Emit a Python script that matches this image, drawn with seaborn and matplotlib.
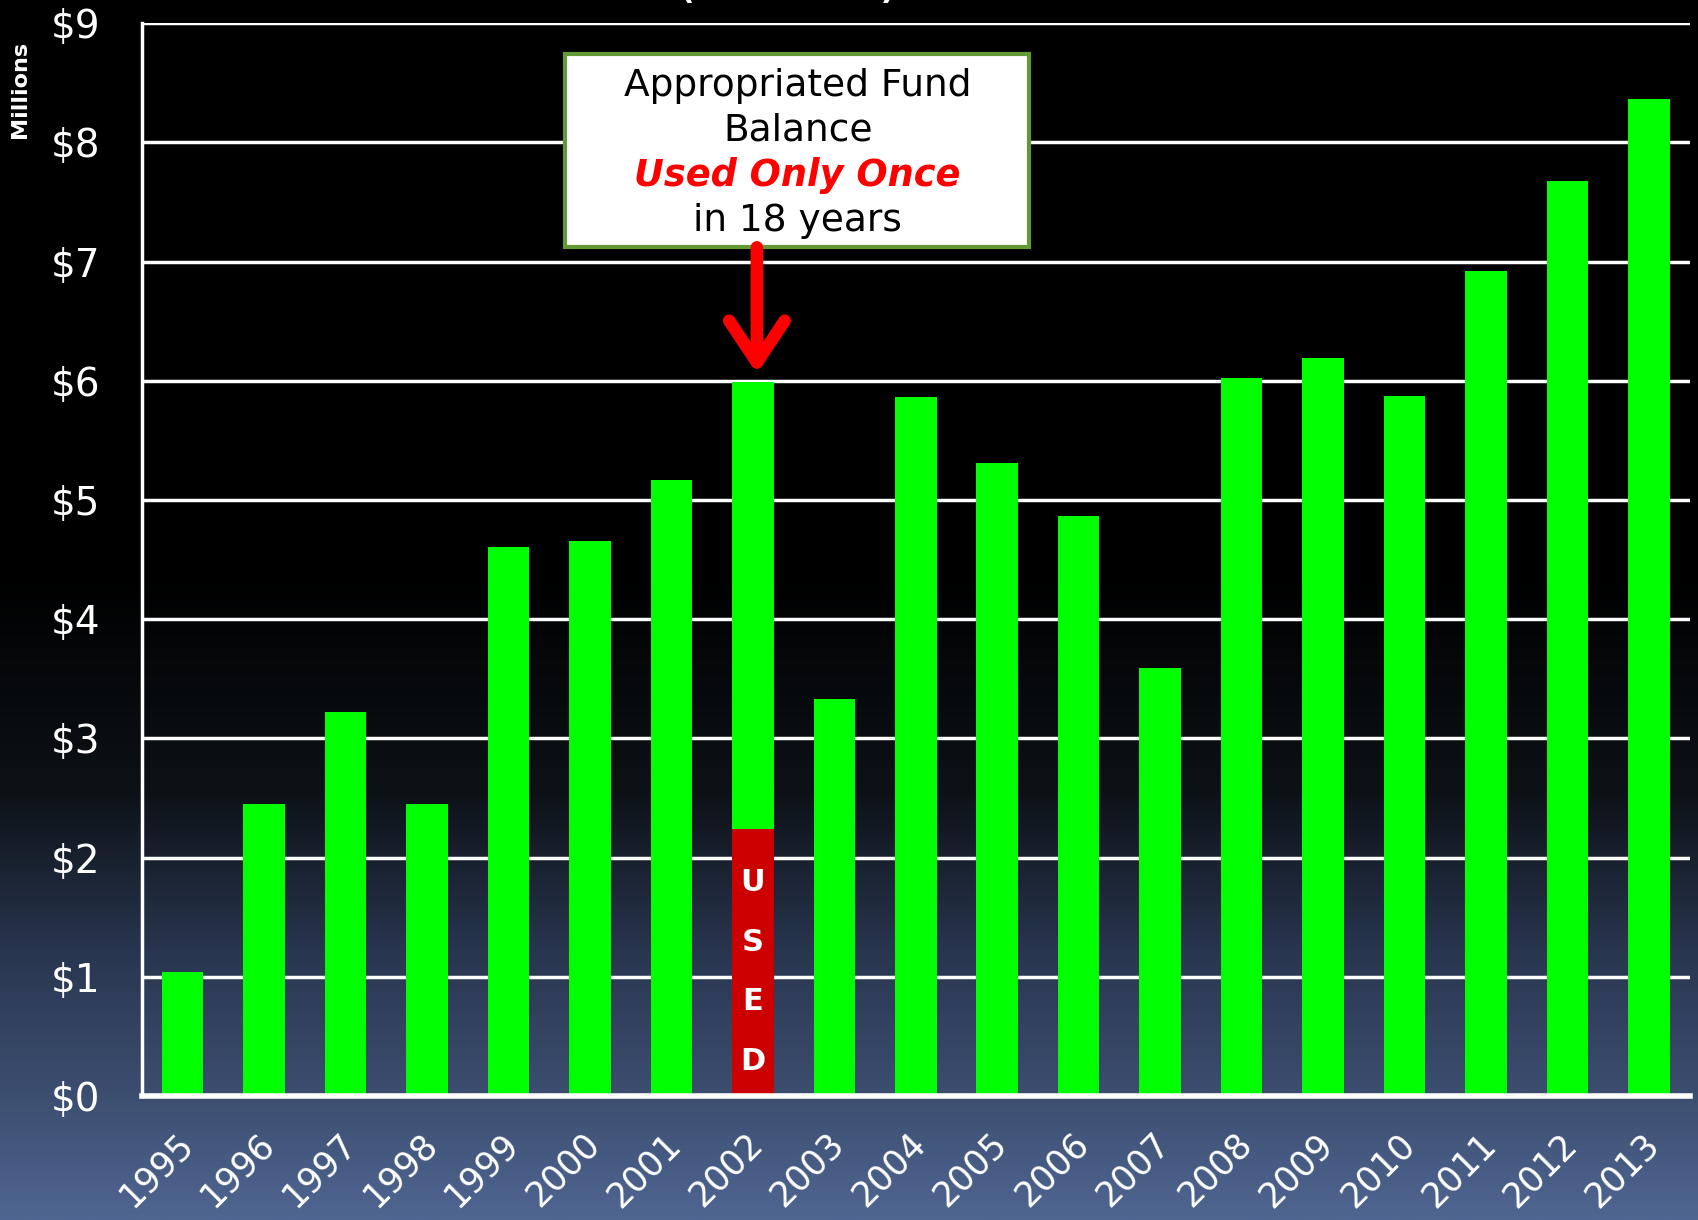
import numpy as np
import pandas as pd
import matplotlib.pyplot as plt
import matplotlib.transforms as mtransforms
from matplotlib.patches import Rectangle
import seaborn as sns

# data (in $ millions)
years = ['1995', '1996', '1997', '1998', '1999', '2000', '2001', '2002', '2003', '2004',
         '2005', '2006', '2007', '2008', '2009', '2010', '2011', '2012', '2013']
balance = [1.04, 2.45, 3.22, 2.45, 4.61, 4.66, 5.17, 5.99, 3.33, 5.86,
           5.31, 4.87, 3.59, 6.02, 6.19, 5.87, 6.92, 7.68, 8.36]
used = [0, 0, 0, 0, 0, 0, 0, 2.24, 0, 0,
        0, 0, 0, 0, 0, 0, 0, 0, 0]
y_ticks = [0, 1, 2, 3, 4, 5, 6, 7, 8, 9]
y_tick_labels = [r'\$0', r'\$1', r'\$2', r'\$3', r'\$4', r'\$5', r'\$6', r'\$7', r'\$8', r'\$9']
box_lines = ['Appropriated Fund', 'Balance', 'Used Only Once', 'in 18 years']
used_letters = ['U', 'S', 'E', 'D']

sns.set_style('white')
plt.rcParams['font.family'] = ['DejaVu Sans']

df = pd.DataFrame({'year': years, 'balance': balance, 'used': used})

fig = plt.figure(figsize=(16.98, 12.2), dpi=100)

# background gradient: black on top, slate blue at the bottom
bg = fig.add_axes([0, 0, 1, 1], zorder=-10)
t = np.linspace(0, 1, 600)
stops = [0.0, 0.47, 0.65, 0.78, 0.89, 1.0]
r = np.interp(t, stops, [0.0, 0.0, 0.05, 0.16, 0.23, 0.31])
g = np.interp(t, stops, [0.0, 0.0, 0.07, 0.21, 0.30, 0.40])
b = np.interp(t, stops, [0.0, 0.0, 0.09, 0.31, 0.43, 0.57])
grad = np.stack([r, g, b], axis=1)[:, None, :]
bg.imshow(grad, aspect='auto', extent=[0, 1, 0, 1])
bg.axis('off')

ax = fig.add_axes([0.0836, 0.1016, 0.9114, 0.8794])
ax.patch.set_alpha(0)

sns.barplot(data=df, x='year', y='balance', color='#00ff00', width=0.51,
            linewidth=0, saturation=1, ax=ax)
sns.barplot(data=df, x='year', y='used', color='#cc0000', width=0.51,
            linewidth=0, saturation=1, ax=ax)

ax.set_xlim(-0.5, 18.5)
ax.set_ylim(0, 9)
ax.set_yticks(y_ticks)
ax.set_yticklabels(y_tick_labels, fontsize=28, color='white')
ax.set_xlabel('')
ax.set_ylabel('')
ax.yaxis.grid(True, color='white', lw=2.5)
ax.set_axisbelow(True)
ax.tick_params(axis='y', length=0, pad=30)
ax.tick_params(axis='x', length=0, pad=22, labelsize=25, labelcolor='white')
offset = mtransforms.ScaledTranslation(12 / 72, 0, fig.dpi_scale_trans)
for lab in ax.get_xticklabels():
    lab.set_rotation(45)
    lab.set_ha('right')
    lab.set_transform(lab.get_transform() + offset)

for side in ['top', 'right']:
    ax.spines[side].set_visible(False)
ax.spines['left'].set_color('white')
ax.spines['left'].set_linewidth(2.5)
ax.spines['bottom'].set_color('white')
ax.spines['bottom'].set_linewidth(4)

# "USED" written down the red part of the 2002 bar
for letter, yy in zip(used_letters, [1.79, 1.29, 0.79, 0.29]):
    ax.text(7, yy, letter, ha='center', va='center', color='white',
            fontsize=22, fontweight='bold', zorder=6)

# callout box
ax.add_patch(Rectangle((4.69, 7.12), 5.7, 1.62, facecolor='white',
                       edgecolor='#629a35', lw=3, zorder=5))
line_y = [8.47, 8.10, 7.72, 7.34]
for i, (txt, yy) in enumerate(zip(box_lines, line_y)):
    if i == 2:
        ax.text(7.55, yy, txt, ha='center', va='center', fontsize=26.5,
                color='#ff0000', fontweight='bold', fontstyle='italic', zorder=6)
    else:
        ax.text(7.55, yy, txt, ha='center', va='center', fontsize=27,
                color='black', zorder=6)

ax.annotate('', xy=(7.05, 6.06), xytext=(7.05, 7.12),
            arrowprops=dict(arrowstyle='->, head_length=1.5, head_width=1.0',
                            color='#ff0000', lw=9, mutation_scale=20,
                            shrinkA=0, shrinkB=0, capstyle='round',
                            joinstyle='round'),
            zorder=6)

fig.text(0.012, 0.927, 'Millions', rotation=90, ha='center', va='center',
         color='white', fontsize=16, fontweight='bold')
fig.text(0.464, 0.9955, '(in millions)', ha='center', va='bottom',
         color='white', fontsize=23, fontweight='bold')

fig.savefig('out.png', dpi=100)
